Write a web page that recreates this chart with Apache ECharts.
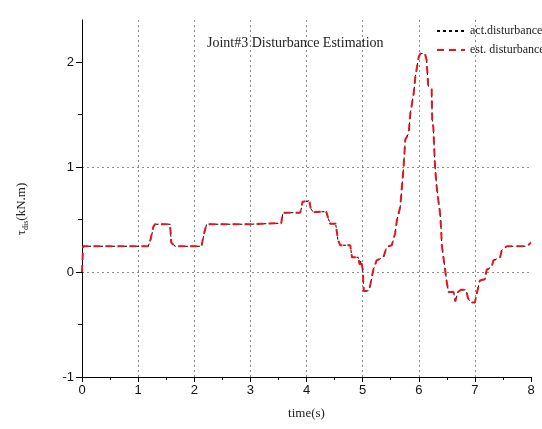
<!DOCTYPE html>
<html>
<head>
<meta charset="utf-8">
<script src="https://cdn.jsdelivr.net/npm/echarts@6/dist/echarts.min.js"></script>
<style>
  html, body { margin: 0; padding: 0; background: #fff; }
  #main { width: 542px; height: 429px; }
</style>
</head>
<body>
<div id="main"></div>
<script>
// time (s) and disturbance torque (kN.m)
var time = [0.00, 0.02, 1.18, 1.22, 1.27, 1.30, 1.57, 1.59, 1.66, 2.13, 2.17, 2.22, 3.00, 3.02, 3.55, 3.58,
    3.89, 3.93, 4.05, 4.08, 4.12, 4.35, 4.42, 4.52, 4.56, 4.60, 4.78, 4.81, 4.92, 4.95, 4.97, 5.00,
    5.02, 5.10, 5.13, 5.19, 5.25, 5.37, 5.43, 5.52, 5.58, 5.61, 5.67, 5.70, 5.73, 5.76, 5.82, 5.85,
    5.91, 5.94, 6.00, 6.03, 6.11, 6.14, 6.17, 6.23, 6.24, 6.26, 6.29, 6.32, 6.35, 6.38, 6.40, 6.41,
    6.47, 6.50, 6.53, 6.62, 6.65, 6.68, 6.70, 6.75, 6.84, 6.88, 6.92, 7.00, 7.04, 7.09, 7.18, 7.21,
    7.30, 7.33, 7.45, 7.48, 7.57, 7.93, 8.00];
var actTau = [0.245, 0.245, 0.245, 0.30, 0.42, 0.455, 0.455, 0.28, 0.245, 0.245, 0.35, 0.455, 0.455, 0.465, 0.465, 0.565,
    0.565, 0.66, 0.68, 0.60, 0.57, 0.575, 0.46, 0.46, 0.30, 0.255, 0.255, 0.14, 0.14, 0.06, 0.11, 0.03,
    -0.18, -0.18, -0.14, 0.02, 0.11, 0.14, 0.24, 0.255, 0.37, 0.49, 0.62, 0.81, 1.00, 1.26, 1.32, 1.51,
    1.70, 1.86, 2.05, 2.08, 2.08, 2.02, 1.77, 1.74, 1.45, 1.38, 1.00, 0.81, 0.68, 0.56, 0.40, 0.26,
    0.02, -0.10, -0.19, -0.19, -0.28, -0.29, -0.19, -0.17, -0.17, -0.25, -0.29, -0.29, -0.19, -0.08, -0.07, 0.02,
    0.05, 0.11, 0.14, 0.21, 0.245, 0.245, 0.28];
var estTau = [0.00, 0.245, 0.245, 0.31, 0.43, 0.455, 0.455, 0.28, 0.245, 0.245, 0.36, 0.455, 0.455, 0.465, 0.465, 0.565,
    0.565, 0.67, 0.68, 0.59, 0.57, 0.575, 0.46, 0.46, 0.31, 0.255, 0.255, 0.14, 0.14, 0.07, 0.11, 0.03,
    -0.18, -0.18, -0.14, 0.02, 0.11, 0.14, 0.24, 0.255, 0.37, 0.49, 0.62, 0.81, 1.00, 1.26, 1.32, 1.51,
    1.70, 1.86, 2.05, 2.08, 2.08, 2.02, 1.77, 1.74, 1.45, 1.38, 1.00, 0.81, 0.68, 0.56, 0.40, 0.26,
    0.02, -0.10, -0.19, -0.19, -0.28, -0.29, -0.19, -0.17, -0.17, -0.25, -0.29, -0.29, -0.19, -0.08, -0.07, 0.02,
    0.05, 0.11, 0.14, 0.21, 0.245, 0.245, 0.28];
var yTicks = [-1, 0, 1, 2];
var seriesNames = ['act.disturbance', 'est. disturbance'];

function pairs(xs, ys) {
    var out = [];
    for (var i = 0; i < xs.length; i++) out.push([xs[i], ys[i]]);
    return out;
}

var serif = '"Liberation Serif", "Times New Roman", serif';
var sans = '"Liberation Sans", Arial, sans-serif';
var gridLineStyle = {color: '#8a8a8a', type: [2, 3], width: 1};

var myChart = echarts.init(document.getElementById('main'));

var option = {
    backgroundColor: '#fff',
    animation: false,
    title: {
        text: 'Joint#3 Disturbance Estimation',
        left: 202,
        top: 31,
        textStyle: {fontFamily: serif, fontSize: 14, fontWeight: 'normal', color: '#222'}
    },
    legend: {
        data: seriesNames,
        orient: 'vertical',
        left: 431,
        top: 20,
        itemGap: 7,
        itemWidth: 28,
        itemHeight: 10,
        itemStyle: {opacity: 0},
        textStyle: {fontFamily: serif, fontSize: 12, color: '#222'}
    },
    grid: {left: 82, right: 11, top: 20, bottom: 52},
    xAxis: {
        type: 'value',
        min: 0,
        max: 8,
        interval: 1,
        name: 'time(s)',
        nameLocation: 'middle',
        nameGap: 30,
        nameTextStyle: {fontFamily: serif, fontSize: 13, color: '#222'},
        axisLine: {onZero: false, lineStyle: {color: '#000', width: 1}},
        axisTick: {length: 5, lineStyle: {color: '#000'}},
        minorTick: {show: true, splitNumber: 2, length: 3, lineStyle: {color: '#000'}},
        axisLabel: {fontFamily: sans, fontSize: 13, color: '#111', margin: 7},
        splitLine: {show: true, showMinLine: false, showMaxLine: false, lineStyle: gridLineStyle}
    },
    yAxis: [{
        type: 'value',
        min: -1,
        max: 2.4,
        interval: 1,
        axisLine: {show: true, onZero: false, lineStyle: {color: '#000', width: 1}},
        axisTick: {show: true, length: 6, customValues: yTicks, lineStyle: {color: '#000'}},
        axisLabel: {fontFamily: sans, fontSize: 13, color: '#111', margin: 8, customValues: yTicks},
        splitLine: {show: true, showMinLine: false, showMaxLine: false, lineStyle: gridLineStyle}
    }, {
        type: 'value',
        position: 'left',
        min: -1,
        max: 2.4,
        interval: 0.5,
        axisLine: {show: false, onZero: false},
        axisTick: {show: true, length: 4, customValues: [-0.5, 0.5, 1.5], lineStyle: {color: '#000'}},
        axisLabel: {show: false},
        splitLine: {show: false}
    }],
    graphic: [{
        type: 'text',
        x: 22,
        y: 209,
        rotation: Math.PI / 2,
        style: {
            text: '{a|τ}{b|dis}{a|(kN.m)}',
            align: 'center',
            verticalAlign: 'middle',
            rich: {
                a: {fontFamily: serif, fontSize: 13, fill: '#222', lineHeight: 16, verticalAlign: 'middle'},
                b: {fontFamily: serif, fontSize: 8, fill: '#222', lineHeight: 16, verticalAlign: 'bottom', padding: [6, 0, 0, 0]}
            }
        }
    }],
    series: [
        {
            name: seriesNames[0],
            type: 'line',
            data: pairs(time, actTau),
            showSymbol: false,
            symbol: 'none',
            itemStyle: {color: '#000'},
            lineStyle: {color: '#000', width: 1, type: [3, 3]},
            z: 2
        },
        {
            name: seriesNames[1],
            type: 'line',
            data: pairs(time, estTau),
            showSymbol: false,
            symbol: 'none',
            itemStyle: {color: '#e8141c'},
            lineStyle: {color: '#e8141c', width: 2, type: [7, 5]},
            z: 3
        }
    ]
};
myChart.setOption(option);
</script>
</body>
</html>
